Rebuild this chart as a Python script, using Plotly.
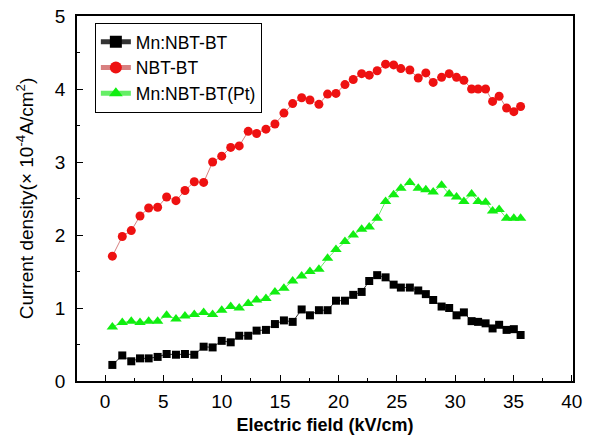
import plotly.graph_objects as go

# Electric field (kV/cm)
field = [0.63, 1.48, 2.25, 3.00, 3.74, 4.51, 5.28, 6.08, 6.85, 7.65,
         8.45, 9.22, 10.00, 10.77, 11.50, 12.27, 12.99, 13.79, 14.56, 15.33,
         16.08, 16.85, 17.56, 18.33, 19.07, 19.79, 20.56, 21.27, 21.99, 22.64,
         23.32, 24.04, 24.73, 25.35, 26.12, 26.84, 27.49, 28.12, 28.84, 29.49,
         30.12, 30.75, 31.41, 31.97, 32.61, 33.21, 33.77, 34.41, 35.03, 35.61]

mn_nbt_bt = [0.22, 0.35, 0.27, 0.31, 0.31, 0.33, 0.37, 0.36, 0.37, 0.36,
             0.47, 0.46, 0.55, 0.53, 0.62, 0.62, 0.69, 0.70, 0.78, 0.83,
             0.81, 0.98, 0.90, 0.97, 0.97, 1.10, 1.10, 1.18, 1.22, 1.37,
             1.45, 1.42, 1.32, 1.28, 1.28, 1.24, 1.19, 1.11, 1.02, 1.00,
             0.90, 0.94, 0.82, 0.81, 0.79, 0.72, 0.77, 0.70, 0.71, 0.63]

nbt_bt = [1.71, 1.98, 2.06, 2.26, 2.37, 2.38, 2.52, 2.47, 2.61, 2.73,
          2.72, 3.00, 3.08, 3.20, 3.22, 3.42, 3.39, 3.45, 3.52, 3.67,
          3.80, 3.88, 3.85, 3.79, 3.93, 3.94, 4.06, 4.13, 4.21, 4.19,
          4.25, 4.34, 4.33, 4.28, 4.26, 4.15, 4.22, 4.09, 4.16, 4.21,
          4.16, 4.12, 4.00, 4.00, 4.00, 3.83, 3.90, 3.74, 3.69, 3.76]

mn_nbt_bt_pt = [0.74, 0.80, 0.82, 0.80, 0.82, 0.82, 0.90, 0.85, 0.89, 0.91,
                0.94, 0.91, 0.97, 1.02, 1.00, 1.06, 1.11, 1.13, 1.22, 1.27,
                1.37, 1.44, 1.50, 1.53, 1.68, 1.80, 1.91, 2.00, 2.08, 2.11,
                2.23, 2.46, 2.55, 2.64, 2.72, 2.64, 2.62, 2.59, 2.68, 2.56,
                2.52, 2.46, 2.56, 2.46, 2.45, 2.33, 2.35, 2.23, 2.23, 2.23]

FONT = "Arial, Liberation Sans, sans-serif"

fig = go.Figure()
fig.add_trace(go.Scatter(
    x=field, y=mn_nbt_bt, name="Mn:NBT-BT", mode="lines+markers",
    line=dict(color="#333333", width=1),
    marker=dict(symbol="square", size=8, color="black")))
fig.add_trace(go.Scatter(
    x=field, y=nbt_bt, name="NBT-BT", mode="lines+markers",
    line=dict(color="#d88080", width=1),
    marker=dict(symbol="circle", size=9, color="#ee1111")))
fig.add_trace(go.Scatter(
    x=field, y=mn_nbt_bt_pt, name="Mn:NBT-BT(Pt)", mode="lines+markers",
    line=dict(color="#66ee66", width=1),
    marker=dict(symbol="triangle-up", size=10, color="#11ee11")))

axis_common = dict(
    showline=True, linecolor="black", linewidth=1.5, mirror=True,
    ticks="inside", ticklen=6, tickwidth=1.2, tickcolor="black",
    showgrid=False, zeroline=False, automargin=False,
    tickfont=dict(family=FONT, size=19, color="black"),
)

fig.update_xaxes(
    range=[-2.4, 40.1], tick0=0, dtick=5,
    minor=dict(ticks="inside", ticklen=3, tickcolor="black", dtick=2.5, tick0=0, showgrid=False),
    title=dict(text="<b>Electric field (kV/cm)</b>", font=dict(family=FONT, size=18, color="black"), standoff=8),
    ticklabelstandoff=2,
    **axis_common)
fig.update_yaxes(
    range=[0, 5], tick0=0, dtick=1,
    minor=dict(ticks="inside", ticklen=3, tickcolor="black", dtick=0.5, tick0=0, showgrid=False),
    title=dict(text="Current density(× 10<sup>-4</sup>A/cm<sup>2</sup>)", font=dict(family=FONT, size=19, color="black"), standoff=16),
    ticklabelstandoff=6,
    **axis_common)

fig.update_layout(
    width=600, height=445,
    margin=dict(l=77, r=27, t=16, b=64),
    paper_bgcolor="white", plot_bgcolor="white",
    showlegend=True,
    legend=dict(x=0.036, y=0.981, xanchor="left", yanchor="top",
                bordercolor="black", borderwidth=1, bgcolor="white",
                font=dict(family=FONT, size=17.5, color="black"),
                tracegroupgap=0, itemsizing="constant"),
)

fig.write_html("out.html", config={"displayModeBar": False},
               post_script="document.body.style.margin='0';")
